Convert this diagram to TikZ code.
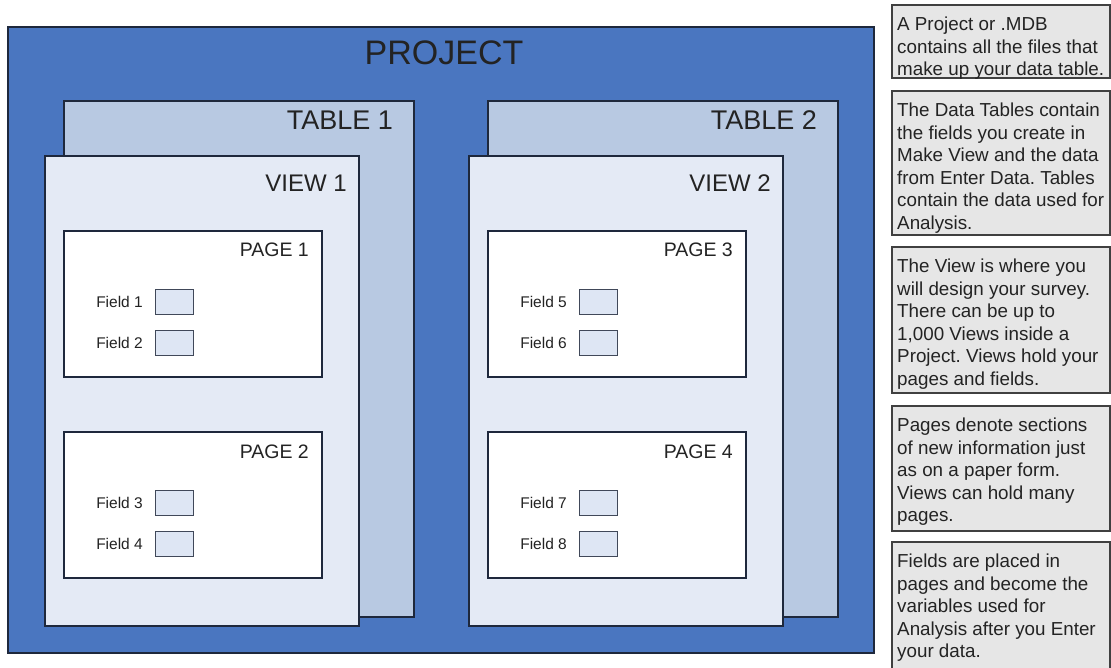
\documentclass[tikz,border=0pt]{standalone}
\usepackage{fontspec}
\setmainfont{Liberation Sans}
\usetikzlibrary{positioning}
\definecolor{projblue}{RGB}{74,118,192}
\definecolor{tableblue}{RGB}{184,201,226}
\definecolor{viewblue}{RGB}{228,234,245}
\definecolor{fieldfill}{RGB}{222,230,244}
\definecolor{notefill}{RGB}{230,230,230}
\definecolor{linecol}{RGB}{30,40,60}
\definecolor{textcol}{RGB}{35,35,35}
\frenchspacing
\begin{document}
\begin{tikzpicture}[x=1pt,y=-1pt,
  frame/.style={draw=linecol,line width=1.4pt},
  heading/.style={text=textcol,inner sep=0pt},
  fieldbox/.style={draw=linecol!85,line width=1.1pt,fill=fieldfill,minimum width=38pt,minimum height=25pt,inner sep=0pt,anchor=north west},
  fieldlabel/.style={text=textcol,inner sep=0pt,font=\fontsize{15.5}{18}\selectfont},
  notebox/.style={draw=black!75,fill=notefill,line width=1.2pt},
  notetext/.style={text=textcol,inner sep=0pt,anchor=north west,align=left,font=\fontsize{18.8}{22.5}\selectfont}]
\useasboundingbox (0,0) rectangle (1111,668);
\draw[frame,fill=projblue] (8,27) rectangle (874,653);
\node[heading,anchor=base,font=\fontsize{34}{40}\selectfont] (project) at (444,65) {PROJECT};
\foreach \c in {0,1} {
  \pgfmathtruncatemacro\tn{\c+1}
  \begin{scope}[xshift=424*\c]
  \draw[frame,fill=tableblue] (64,101) rectangle (414,617);
  \node[heading,anchor=base east,font=\fontsize{27}{32}\selectfont] (table\tn) at (393,130) {TABLE \tn};
  \draw[frame,fill=viewblue] (45,156) rectangle (359,626);
  \node[heading,anchor=base east,font=\fontsize{24}{28}\selectfont] (view\tn) at (347,192) {VIEW \tn};
  \foreach \r in {0,1} {
    \pgfmathtruncatemacro\pn{2*\c+\r+1}
    \begin{scope}[yshift=-201*\r]
    \draw[frame,fill=white] (64,231) rectangle (322,377);
    \node[heading,anchor=base east,font=\fontsize{19.5}{23}\selectfont] (page\pn) at (309,257) {PAGE \pn};
    \foreach \k in {0,1} {
      \pgfmathtruncatemacro\fn{4*\c+2*\r+\k+1}
      \node[fieldbox] (box\fn) at (155,289+41*\k) {};
      \node[fieldlabel,left=12pt of box\fn] (field\fn) {Field \fn};
    }
    \end{scope}
  }
  \end{scope}
}
\draw[notebox] (892,5) rectangle (1110,78);
\node[notetext] (note1) at (897,16.7) {A Project or .MDB\\contains all the files that\\make up your data table.};
\draw[notebox] (892,91) rectangle (1110,235);
\node[notetext] (note2) at (897,102.7) {The Data Tables contain\\the fields you create in\\Make View and the data\\from Enter Data. Tables\\contain the data used for\\Analysis.};
\draw[notebox] (892,247) rectangle (1110,393);
\node[notetext] (note3) at (897,258.7) {The View is where you\\will design your survey.\\There can be up to\\1,000 Views inside a\\Project. Views hold your\\pages and fields.};
\draw[notebox] (892,406) rectangle (1110,531);
\node[notetext] (note4) at (897,417.7) {Pages denote sections\\of new information just\\as on a paper form.\\Views can hold many\\pages.};
\draw[notebox] (892,542) rectangle (1110,690);
\node[notetext] (note5) at (897,553.7) {Fields are placed in\\pages and become the\\variables used for\\Analysis after you Enter\\your data.};
\end{tikzpicture}
\end{document}
